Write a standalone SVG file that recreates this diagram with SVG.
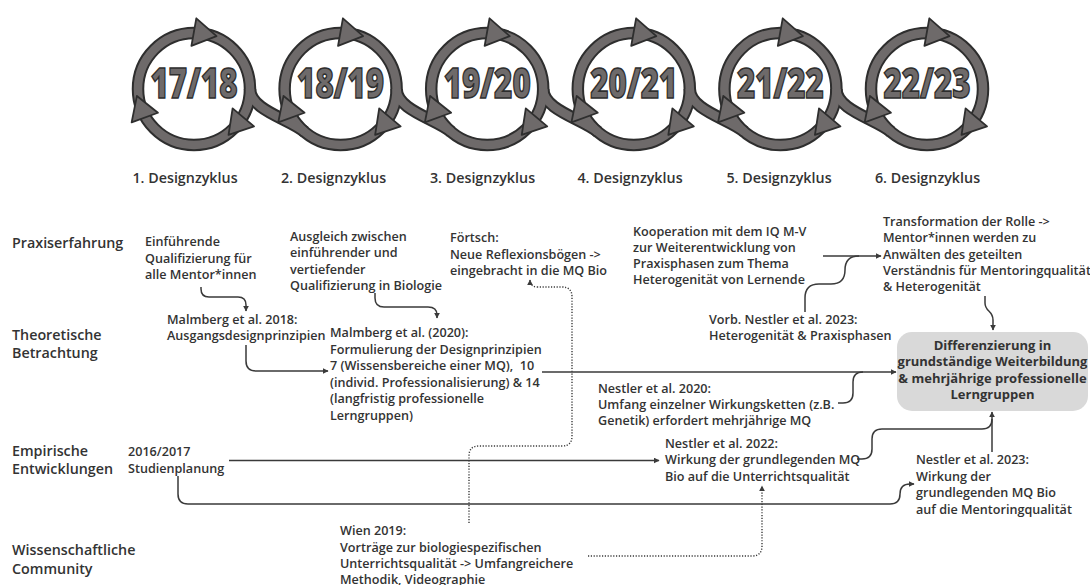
<svg xmlns="http://www.w3.org/2000/svg" width="1090" height="585" viewBox="0 0 1090 585">
  <style>
    .t { font-family: "Open Sans", "Liberation Sans", sans-serif; font-weight: 600; font-size: 12.6px; fill: #333333; }
    .row { font-size: 14.3px; }
    .cyc { font-size: 14.3px; text-anchor: middle; }
    .bx { font-weight: 700; font-size: 13px; text-anchor: middle; fill: #333; }
    .yr { font-family: "Open Sans", "Liberation Sans", sans-serif; font-weight: 800; font-size: 42px; fill: #6e6a6a; stroke: #2e2e2e; stroke-width: 1.6; text-anchor: middle; }
    .ringO { fill: none; stroke: #2e2e2e; stroke-width: 12.5; }
    .ringI { fill: none; stroke: #6e6a6a; stroke-width: 8.5; }
    .head { fill: #6e6a6a; stroke: #2e2e2e; stroke-width: 1.8; stroke-linejoin: round; }
    .c { fill: none; stroke: #3a3a3a; stroke-width: 1.5; }
    .d { fill: none; stroke: #3a3a3a; stroke-width: 1.4; stroke-dasharray: 1.2 1.6; }
  </style>
  <defs>
    <marker id="ah" viewBox="0 0 10 10" refX="9" refY="5" markerWidth="6" markerHeight="6" markerUnits="userSpaceOnUse" orient="auto">
      <path d="M0,0 L10,5 L0,10 z" fill="#3a3a3a"/>
    </marker>
    <!-- three arrowheads around a cycle ring of radius 56 -->
    <g id="heads">
      <path class="head" d="M22.53,-52.89 L2.31,-70.68 L-2.57,-43.10 Z"/>
      <path class="head" d="M34.54,45.96 L60.05,37.34 L38.61,19.34 Z"/>
      <path class="head" d="M-57.07,6.93 L-62.36,33.34 L-36.04,23.76 Z"/>
    </g>
    <path id="band" d="M56 0 C56 21 95.3 30 110.6 42.9"/>
  </defs>

  <rect width="1090" height="585" fill="#ffffff"/>

  <!-- chained design cycles -->
  <g id="cycles">
    <g class="ringO">
      <circle cx="194" cy="89" r="56"/>
      <circle cx="340.6" cy="89" r="56"/>
      <circle cx="487.2" cy="89" r="56"/>
      <circle cx="633.8" cy="89" r="56"/>
      <circle cx="780.4" cy="89" r="56"/>
      <circle cx="927" cy="89" r="56"/>
      <use href="#band" x="194" y="89"/>
      <use href="#band" x="340.6" y="89"/>
      <use href="#band" x="487.2" y="89"/>
      <use href="#band" x="633.8" y="89"/>
      <use href="#band" x="780.4" y="89"/>
    </g>
    <g class="ringI">
      <circle cx="194" cy="89" r="56"/>
      <circle cx="340.6" cy="89" r="56"/>
      <circle cx="487.2" cy="89" r="56"/>
      <circle cx="633.8" cy="89" r="56"/>
      <circle cx="780.4" cy="89" r="56"/>
      <circle cx="927" cy="89" r="56"/>
      <use href="#band" x="194" y="89"/>
      <use href="#band" x="340.6" y="89"/>
      <use href="#band" x="487.2" y="89"/>
      <use href="#band" x="633.8" y="89"/>
      <use href="#band" x="780.4" y="89"/>
    </g>
    <use href="#heads" x="194" y="89"/>
    <use href="#heads" x="340.6" y="89"/>
    <use href="#heads" x="487.2" y="89"/>
    <use href="#heads" x="633.8" y="89"/>
    <use href="#heads" x="780.4" y="89"/>
    <use href="#heads" x="927" y="89"/>
  </g>

  <g id="cycle-1"><text class="yr" x="194" y="98" textLength="87" lengthAdjust="spacingAndGlyphs">17/18</text><text class="t cyc" x="185" y="183">1. Designzyklus</text></g>
  <g id="cycle-2"><text class="yr" x="340.6" y="98" textLength="87" lengthAdjust="spacingAndGlyphs">18/19</text><text class="t cyc" x="333.5" y="183">2. Designzyklus</text></g>
  <g id="cycle-3"><text class="yr" x="487.2" y="98" textLength="87" lengthAdjust="spacingAndGlyphs">19/20</text><text class="t cyc" x="482.5" y="183">3. Designzyklus</text></g>
  <g id="cycle-4"><text class="yr" x="633.8" y="98" textLength="87" lengthAdjust="spacingAndGlyphs">20/21</text><text class="t cyc" x="630" y="183">4. Designzyklus</text></g>
  <g id="cycle-5"><text class="yr" x="780.4" y="98" textLength="87" lengthAdjust="spacingAndGlyphs">21/22</text><text class="t cyc" x="779" y="183">5. Designzyklus</text></g>
  <g id="cycle-6"><text class="yr" x="927" y="98" textLength="87" lengthAdjust="spacingAndGlyphs">22/23</text><text class="t cyc" x="927.5" y="183">6. Designzyklus</text></g>

  <!-- row headings -->
  <g id="row-praxis"><text class="t row" x="12" y="248">Praxiserfahrung</text></g>
  <g id="row-theorie"><text class="t row" x="12" y="340">Theoretische</text><text class="t row" x="12" y="358">Betrachtung</text></g>
  <g id="row-empirie"><text class="t row" x="12" y="456">Empirische</text><text class="t row" x="12" y="474">Entwicklungen</text></g>
  <g id="row-community"><text class="t row" x="12" y="555">Wissenschaftliche</text><text class="t row" x="12" y="574">Community</text></g>

  <!-- connectors -->
  <g id="connectors">
    <path class="c" d="M201 287 V289 Q201 297 209 297 H238 Q246 297 246 305 V311" marker-end="url(#ah)"/>
    <path class="c" d="M375 293 V298 Q375 307 384 307 H428 Q437 307 437 315 V318" marker-end="url(#ah)"/>
    <path class="c" d="M246 345 V361 Q246 371 256 371 H328" marker-end="url(#ah)"/>
    <path class="c" d="M542 372 H896" marker-end="url(#ah)"/>
    <path class="c" d="M838 403 H843 Q853 403 853 393 V382 Q853 372 863 372"/>
    <path class="c" d="M823 256 H881" marker-end="url(#ah)"/>
    <path class="c" d="M805 312 V298 Q805 284 819 284 H831 Q845 284 845 270 Q845 256 859 256"/>
    <path class="c" d="M985 296 V303 C985 312 993 310 993 320 V330" marker-end="url(#ah)"/>
    <path class="c" d="M992 452 V412" marker-end="url(#ah)"/>
    <path class="c" d="M857 459 H862 Q872 459 872 449 V439 Q872 429 882 429 H982 Q992 429 992 419"/>
    <path class="c" d="M229 460.5 H659" marker-end="url(#ah)"/>
    <path class="c" d="M178 476 V494 Q178 504 188 504 H890 Q900 504 900 494 Q900 484 910 484 H914" marker-end="url(#ah)"/>
    <path class="d" d="M469 523 V456 Q469 446 479 446 H562 Q572 446 572 436 V297 Q572 287 562 287 H538 Q530 287 530 280" marker-end="url(#ah)"/>
    <path class="d" d="M588 556 H752 Q762 556 762 546 V486" marker-end="url(#ah)"/>
  </g>

  <!-- Praxiserfahrung -->
  <g id="n-einfuehrend">
    <text class="t"><tspan x="145" y="246">Einführende</tspan><tspan x="145" y="262.5">Qualifizierung für</tspan><tspan x="145" y="279">alle Mentor*innen</tspan></text>
  </g>
  <g id="n-ausgleich">
    <text class="t"><tspan x="290" y="241">Ausgleich zwischen</tspan><tspan x="290" y="257">einführender und</tspan><tspan x="290" y="273.5">vertiefender</tspan><tspan x="290" y="290">Qualifizierung in Biologie</tspan></text>
  </g>
  <g id="n-foertsch">
    <text class="t"><tspan x="450" y="242">Förtsch:</tspan><tspan x="450" y="258.5">Neue Reflexionsbögen -&gt;</tspan><tspan x="450" y="275">eingebracht in die MQ Bio</tspan></text>
  </g>
  <g id="n-kooperation">
    <text class="t"><tspan x="633" y="236">Kooperation mit dem IQ M-V</tspan><tspan x="633" y="252">zur Weiterentwicklung von</tspan><tspan x="633" y="268">Praxisphasen zum Thema</tspan><tspan x="633" y="284">Heterogenität von Lernende</tspan></text>
  </g>
  <g id="n-transformation">
    <text class="t"><tspan x="883" y="226">Transformation der Rolle -&gt;</tspan><tspan x="883" y="242.3">Mentor*innen werden zu</tspan><tspan x="883" y="258.6">Anwälten des geteilten</tspan><tspan x="883" y="274.9">Verständnis für Mentoringqualität</tspan><tspan x="883" y="291.2">&amp; Heterogenität</tspan></text>
  </g>

  <!-- Theoretische Betrachtung -->
  <g id="n-malmberg2018">
    <text class="t"><tspan x="167" y="324">Malmberg et al. 2018:</tspan><tspan x="167" y="340">Ausgangsdesignprinzipien</tspan></text>
  </g>
  <g id="n-malmberg2020">
    <text class="t"><tspan x="330" y="337">Malmberg et al. (2020):</tspan><tspan x="330" y="353.5">Formulierung der Designprinzipien</tspan><tspan x="330" y="370">7 (Wissensbereiche einer MQ),&#160; 10</tspan><tspan x="330" y="386.5">(individ. Professionalisierung) &amp; 14</tspan><tspan x="330" y="403">(langfristig professionelle</tspan><tspan x="330" y="419.5">Lerngruppen)</tspan></text>
  </g>
  <g id="n-vorb-nestler">
    <text class="t"><tspan x="709" y="323.5">Vorb. Nestler et al. 2023:</tspan><tspan x="709" y="340">Heterogenität &amp; Praxisphasen</tspan></text>
  </g>
  <g id="n-nestler2020">
    <text class="t"><tspan x="598" y="392.5">Nestler et al. 2020:</tspan><tspan x="598" y="408.5">Umfang einzelner Wirkungsketten (z.B.</tspan><tspan x="598" y="425">Genetik) erfordert mehrjährige MQ</tspan></text>
  </g>
  <g id="n-differenzierung">
    <rect x="897" y="332" width="191" height="79" rx="15" fill="#d9d9d9"/>
    <text class="t bx"><tspan x="992.5" y="350">Differenzierung in</tspan><tspan x="992.5" y="366">grundständige Weiterbildung</tspan><tspan x="992.5" y="382.5">&amp; mehrjährige professionelle</tspan><tspan x="992.5" y="398.5">Lerngruppen</tspan></text>
  </g>

  <!-- Empirische Entwicklungen -->
  <g id="n-studienplanung">
    <text class="t"><tspan x="128" y="456">2016/2017</tspan><tspan x="128" y="472.5">Studienplanung</tspan></text>
  </g>
  <g id="n-nestler2022">
    <text class="t"><tspan x="665" y="447.5">Nestler et al. 2022:</tspan><tspan x="665" y="464">Wirkung der grundlegenden MQ</tspan><tspan x="665" y="480.5">Bio auf die Unterrichtsqualität</tspan></text>
  </g>
  <g id="n-nestler2023">
    <text class="t"><tspan x="916" y="464">Nestler et al. 2023:</tspan><tspan x="916" y="480.5">Wirkung der</tspan><tspan x="916" y="497">grundlegenden MQ Bio</tspan><tspan x="916" y="513.5">auf die Mentoringqualität</tspan></text>
  </g>

  <!-- Wissenschaftliche Community -->
  <g id="n-wien2019">
    <text class="t"><tspan x="340" y="535">Wien 2019:</tspan><tspan x="340" y="551.5">Vorträge zur biologiespezifischen</tspan><tspan x="340" y="568">Unterrichtsqualität -&gt; Umfangreichere</tspan><tspan x="340" y="584">Methodik, Videographie</tspan></text>
  </g>
</svg>
